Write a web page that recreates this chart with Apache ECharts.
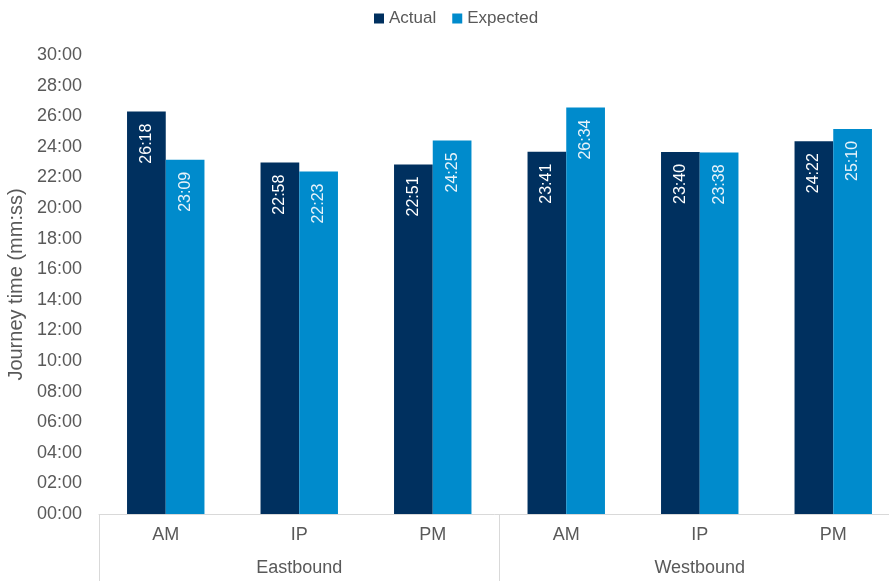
<!DOCTYPE html>
<html>
<head>
<meta charset="utf-8">
<script src="https://cdn.jsdelivr.net/npm/echarts@6/dist/echarts.min.js"></script>
<style>
  html, body { margin: 0; padding: 0; background: #ffffff; }
  #chart { width: 889px; height: 581px; }
</style>
</head>
<body>
<div id="chart"></div>
<script>
// Journey times per period, grouped by direction (mm:ss)
const periods = ['AM', 'IP', 'PM', 'AM', 'IP', 'PM'];
const directions = ['Eastbound', 'Westbound'];
const actualTimes = ['26:18', '22:58', '22:51', '23:41', '23:40', '24:22'];
const expectedTimes = ['23:09', '22:23', '24:25', '26:34', '23:38', '25:10'];
const seriesNames = ['Actual', 'Expected'];
const yTickMax = '30:00';
const yTickStep = '02:00';

const toSeconds = s => { const [m, sec] = s.split(':').map(Number); return m * 60 + sec; };
const toMMSS = v => {
  const m = Math.floor(v / 60), s = Math.round(v % 60);
  return String(m).padStart(2, '0') + ':' + String(s).padStart(2, '0');
};

const textColor = '#595959';
const lineColor = '#d9d9d9';
const font = 'Liberation Sans, Arial, sans-serif';

const barLabel = (color) => ({
  show: true,
  position: 'insideTop',
  rotate: 90,
  align: 'right',
  verticalAlign: 'middle',
  distance: 12,
  color: color,
  fontSize: 16,
  fontFamily: font,
  formatter: p => toMMSS(p.value)
});

const chart = echarts.init(document.getElementById('chart'), null, { renderer: 'canvas' });
chart.setOption({
  animation: false,
  textStyle: { fontFamily: font },
  legend: {
    top: 5,
    left: 369,
    itemWidth: 10,
    itemHeight: 10,
    itemGap: 16,
    icon: 'rect',
    textStyle: { color: textColor, fontSize: 17, fontFamily: font },
    data: seriesNames
  },
  // the plot runs a little past the right edge of the canvas
  grid: { left: 99, top: 55, width: 801, height: 459, outerBoundsMode: 'none', containLabel: false },
  xAxis: [
    {
      type: 'category',
      data: periods,
      position: 'bottom',
      axisLine: { show: true, lineStyle: { color: lineColor, width: 1 } },
      axisTick: { show: false },
      axisLabel: { color: textColor, fontSize: 18, fontFamily: font, margin: 12 }
    },
    {
      type: 'category',
      data: directions,
      position: 'bottom',
      gridIndex: 0,
      axisLine: { show: false },
      axisTick: { show: true, length: 70, lineStyle: { color: lineColor, width: 1 } },
      axisLabel: { color: textColor, fontSize: 18, fontFamily: font, margin: 45 }
    }
  ],
  yAxis: {
    type: 'value',
    min: 0,
    max: toSeconds(yTickMax),
    interval: toSeconds(yTickStep),
    name: 'Journey time (mm:ss)',
    nameLocation: 'middle',
    nameGap: 10,
    nameRotate: 90,
    nameTextStyle: { color: textColor, fontSize: 20, fontFamily: font },
    axisLine: { show: false },
    axisTick: { show: false },
    splitLine: { show: false },
    axisLabel: { color: textColor, fontSize: 18, fontFamily: font, margin: 17, formatter: v => toMMSS(v) }
  },
  series: [
    {
      name: seriesNames[0],
      type: 'bar',
      xAxisIndex: 0,
      data: actualTimes.map(toSeconds),
      barGap: '0%',
      barCategoryGap: '42%',
      itemStyle: { color: '#00305f' },
      label: barLabel('#ffffff')
    },
    {
      name: seriesNames[1],
      type: 'bar',
      xAxisIndex: 0,
      data: expectedTimes.map(toSeconds),
      barGap: '0%',
      barCategoryGap: '42%',
      itemStyle: { color: '#008bcc' },
      label: barLabel('#e8f3fa')
    }
  ]
});
</script>
</body>
</html>
